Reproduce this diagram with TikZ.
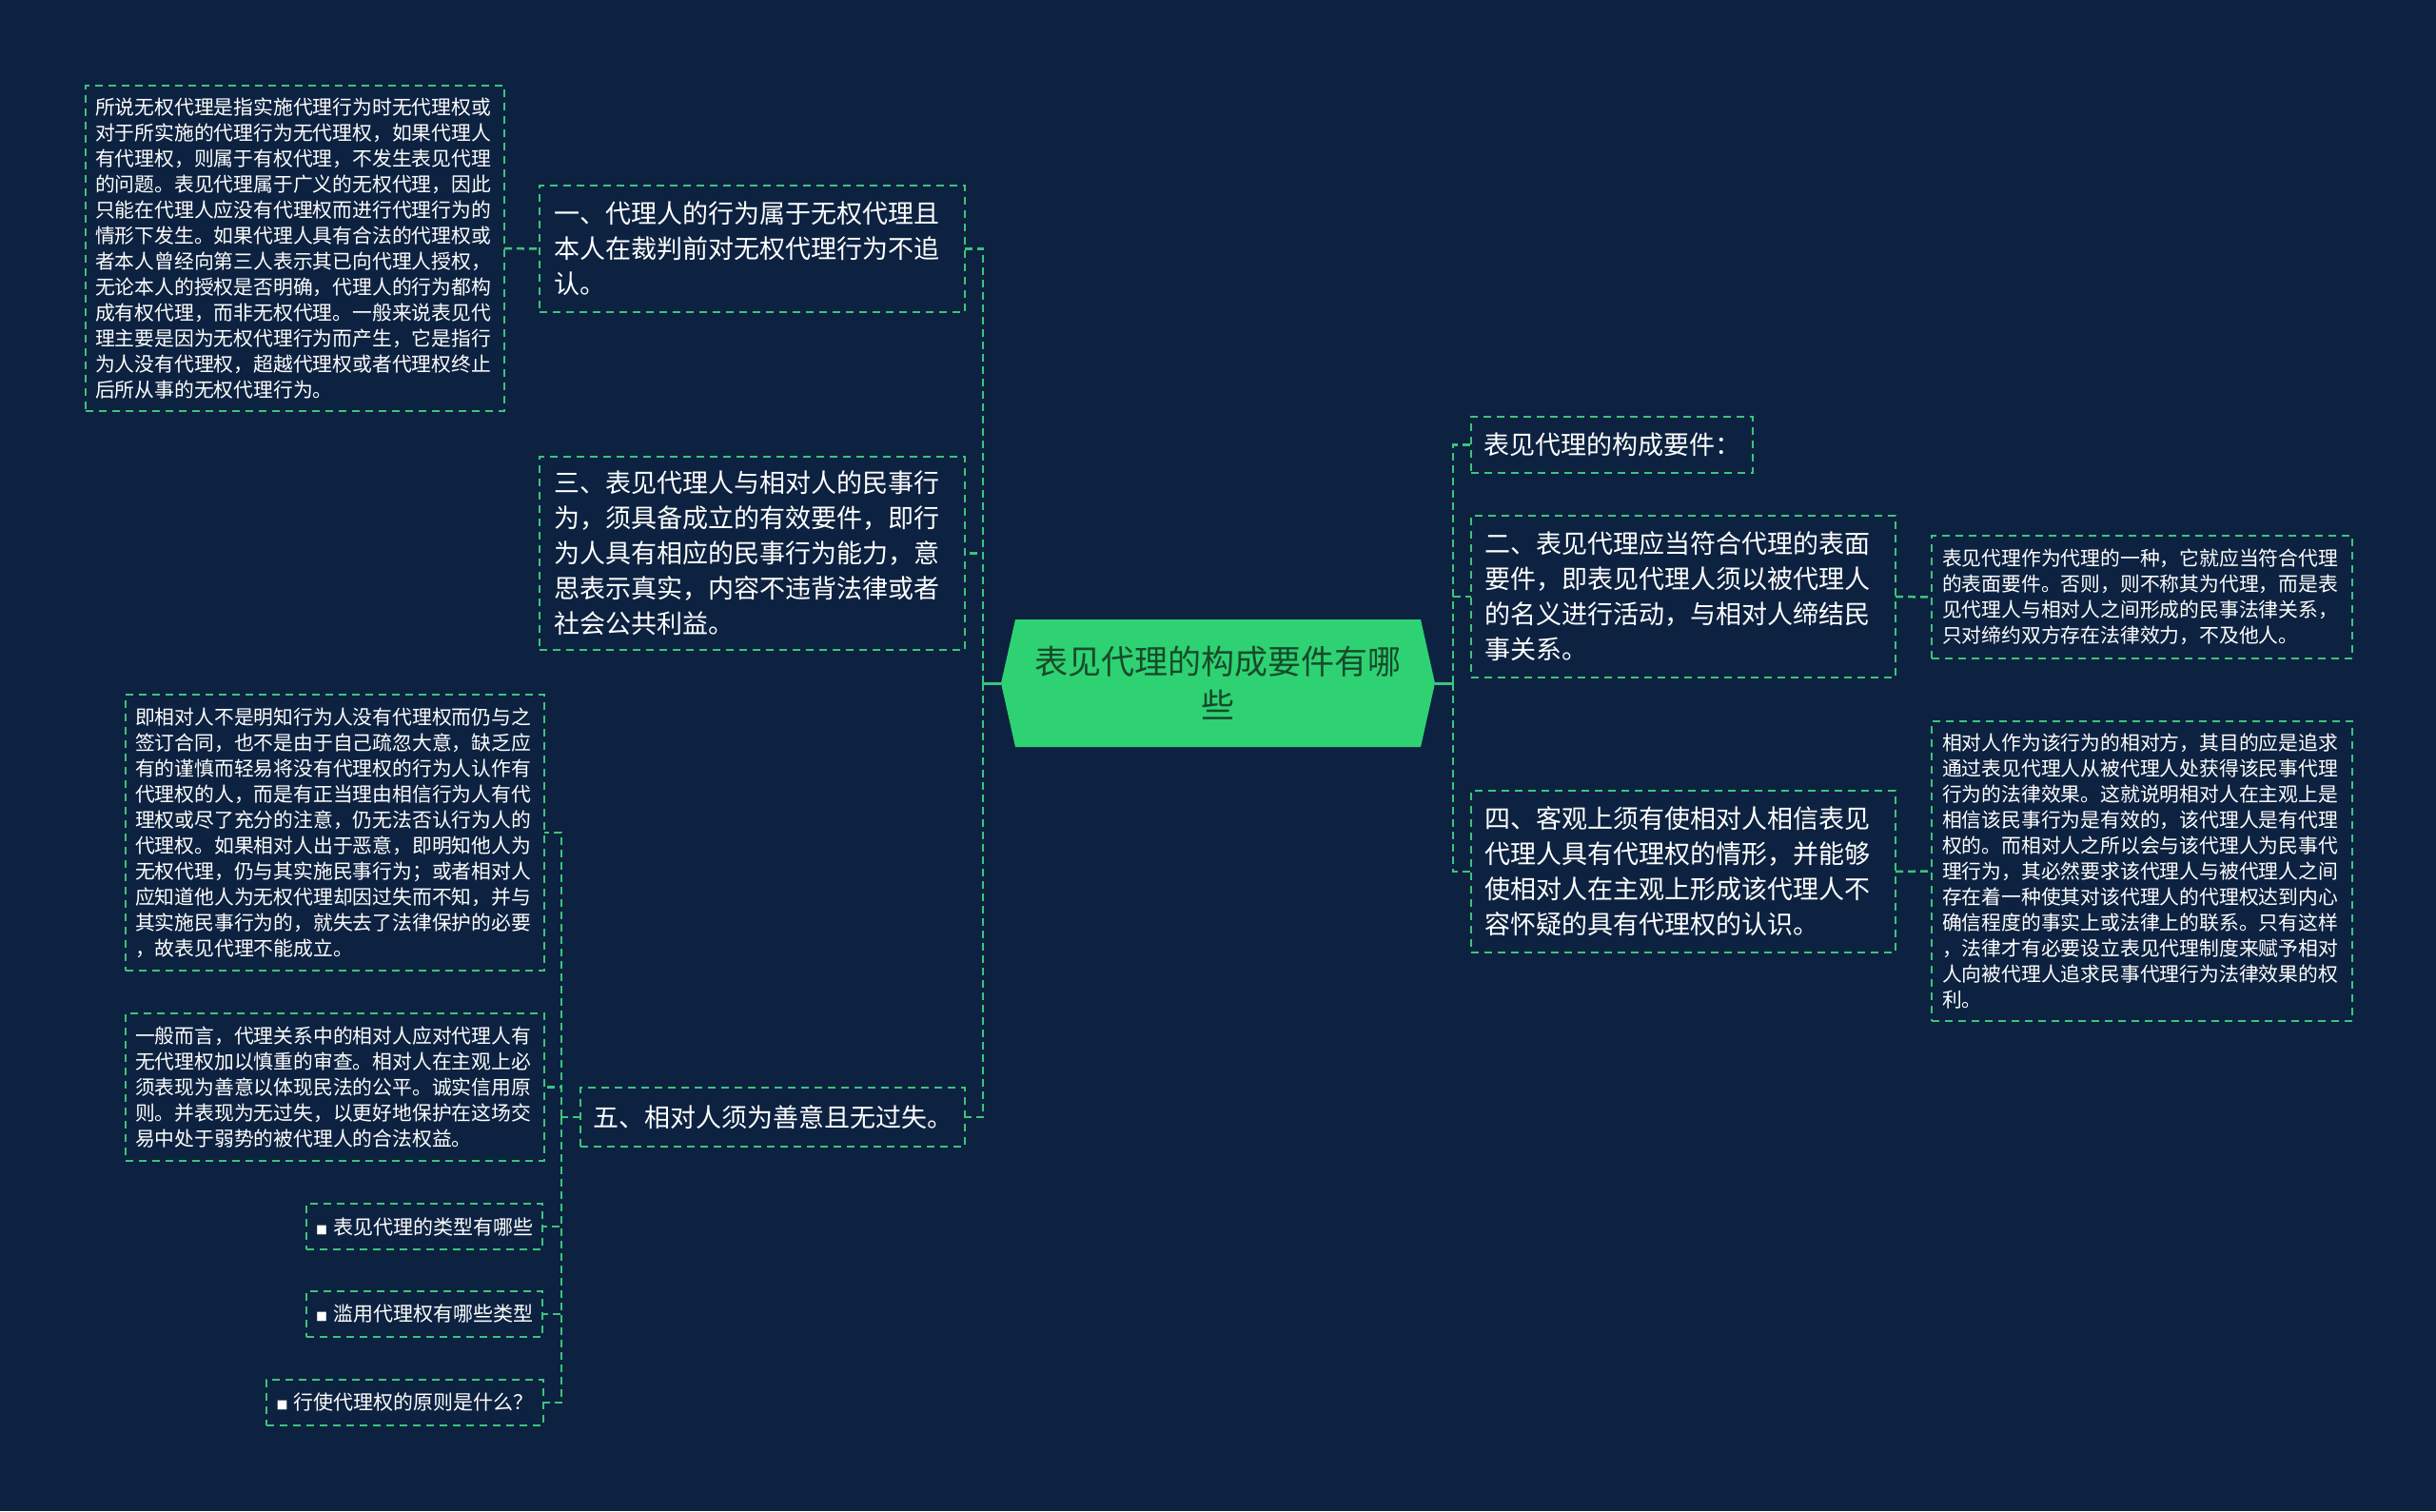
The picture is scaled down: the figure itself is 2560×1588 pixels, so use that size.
\documentclass[tikz,border=0pt]{standalone}
\usepackage{fontspec}
\setmainfont{Noto Sans CJK SC}
\usetikzlibrary{calc}
\definecolor{bgc}{HTML}{0D2240}
\definecolor{lg}{HTML}{3CC47C}
\definecolor{rootg}{HTML}{2ED273}
\definecolor{roott}{HTML}{174A2A}
\pgfdeclarelayer{back}
\pgfdeclarelayer{mid}
\pgfsetlayers{back,mid,main}
\tikzset{
  box/.style={draw=lg, line width=2pt, dash pattern=on 8pt off 6pt, text=white, align=left, inner ysep=0pt, outer sep=0pt},
  para/.style={box, font=\fontsize{20.8}{27}\selectfont, inner xsep=10pt, text width=420pt},
  big/.style={box, font=\fontsize{27}{37}\selectfont},
  tag/.style={box, font=\fontsize{21}{27}\selectfont, align=center, inner xsep=0pt, minimum height=48pt},
  link/.style={draw=lg, line width=2.5pt, dash pattern=on 8pt off 5pt},
  rootlink/.style={draw=lg, line width=3pt},
  rootnode/.style={font=\fontsize{35}{46}\selectfont, text=roott, align=center, minimum width=456pt, minimum height=134pt, inner sep=0pt, outer sep=0pt}
}
\newcommand{\mybullet}{{\fontsize{12}{12}\selectfont ■}\hspace{6pt}}
\begin{document}
\begin{tikzpicture}[x=1pt,y=-1pt]
\begin{pgfonlayer}{back}
\fill[bgc] (0,0) rectangle (2560,1588);
\end{pgfonlayer}
\useasboundingbox (0,0) rectangle (2560,1588);

% root
\node[rootnode] (root) at (1280,718) {表见代理的构成要件有哪\\些};
\begin{pgfonlayer}{mid}
\fill[rootg] ($(root.north west)+(15,0)$) -- ($(root.north east)+(-15,0)$) -- (root.east) -- ($(root.south east)+(-15,0)$) -- ($(root.south west)+(15,0)$) -- (root.west) -- cycle;
\end{pgfonlayer}

% left side
\node[para, minimum height=342pt] (A) at (310,261) {所说无权代理是指实施代理行为时无代理权或\\对于所实施的代理行为无代理权，如果代理人\\有代理权，则属于有权代理，不发生表见代理\\的问题。表见代理属于广义的无权代理，因此\\只能在代理人应没有代理权而进行代理行为的\\情形下发生。如果代理人具有合法的代理权或\\者本人曾经向第三人表示其已向代理人授权，\\无论本人的授权是否明确，代理人的行为都构\\成有权代理，而非无权代理。一般来说表见代\\理主要是因为无权代理行为而产生，它是指行\\为人没有代理权，超越代理权或者代理权终止\\后所从事的无权代理行为。};

\node[big, inner xsep=15pt, text width=417pt, minimum height=133pt] (B) at (790.5,261.5) {一、代理人的行为属于无权代理且\\本人在裁判前对无权代理行为不追\\认。};

\node[big, inner xsep=15pt, text width=417pt, minimum height=203pt] (C) at (790.5,581.5) {三、表见代理人与相对人的民事行\\为，须具备成立的有效要件，即行\\为人具有相应的民事行为能力，意\\思表示真实，内容不违背法律或者\\社会公共利益。};

\node[big, align=center, inner xsep=0pt, minimum width=404pt, minimum height=62pt] (D) at (812,1174) {五、相对人须为善意且无过失。};

\node[para, minimum height=290pt] (E) at (352,875) {即相对人不是明知行为人没有代理权而仍与之\\签订合同，也不是由于自己疏忽大意，缺乏应\\有的谨慎而轻易将没有代理权的行为人认作有\\代理权的人，而是有正当理由相信行为人有代\\理权或尽了充分的注意，仍无法否认行为人的\\代理权。如果相对人出于恶意，即明知他人为\\无权代理，仍与其实施民事行为；或者相对人\\应知道他人为无权代理却因过失而不知，并与\\其实施民事行为的，就失去了法律保护的必要\\，故表见代理不能成立。};

\node[para, minimum height=155pt] (F) at (352,1142.5) {一般而言，代理关系中的相对人应对代理人有\\无代理权加以慎重的审查。相对人在主观上必\\须表现为善意以体现民法的公平。诚实信用原\\则。并表现为无过失，以更好地保护在这场交\\易中处于弱势的被代理人的合法权益。};

\node[tag, minimum width=248pt] (G) at (446,1289) {\mybullet 表见代理的类型有哪些};
\node[tag, minimum width=248pt] (H) at (446,1381) {\mybullet 滥用代理权有哪些类型};
\node[tag, minimum width=291pt] (I) at (425.5,1474) {\mybullet 行使代理权的原则是什么？};

% right side
\node[big, inner xsep=13pt, text width=270pt, minimum height=59pt] (J) at (1694,467.5) {表见代理的构成要件：};

\node[big, inner xsep=14pt, text width=418pt, minimum height=170pt] (K) at (1769,627) {二、表见代理应当符合代理的表面\\要件，即表见代理人须以被代理人\\的名义进行活动，与相对人缔结民\\事关系。};

\node[para, inner xsep=11pt, minimum height=129pt] (L) at (2251,627.5) {表见代理作为代理的一种，它就应当符合代理\\的表面要件。否则，则不称其为代理，而是表\\见代理人与相对人之间形成的民事法律关系，\\只对缔约双方存在法律效力，不及他人。};

\node[big, inner xsep=14pt, text width=418pt, minimum height=170pt] (M) at (1769,916) {四、客观上须有使相对人相信表见\\代理人具有代理权的情形，并能够\\使相对人在主观上形成该代理人不\\容怀疑的具有代理权的认识。};

\node[para, inner xsep=11pt, minimum height=315pt] (N) at (2251,915.5) {相对人作为该行为的相对方，其目的应是追求\\通过表见代理人从被代理人处获得该民事代理\\行为的法律效果。这就说明相对人在主观上是\\相信该民事行为是有效的，该代理人是有代理\\权的。而相对人之所以会与该代理人为民事代\\理行为，其必然要求该代理人与被代理人之间\\存在着一种使其对该代理人的代理权达到内心\\确信程度的事实上或法律上的联系。只有这样\\，法律才有必要设立表见代理制度来赋予相对\\人向被代理人追求民事代理行为法律效果的权\\利。};

% connectors
\coordinate (tl) at (1033,718);
\coordinate (tr) at (1527,718);
\coordinate (ts) at (590,1174);

\draw[rootlink] (root.west) -- (tl);
\draw[rootlink] (root.east) -- (tr);

\draw[link] (tl) |- (B.east);
\draw[link] (tl) |- (C.east);
\draw[link] (tl) |- (D.east);
\draw[link] (A.east) -- (B.west);

\draw[link] (D.west) -- (ts);
\draw[link] (ts) |- (E.east);
\draw[link] (ts) |- (F.east);
\draw[link] (ts) |- (G.east);
\draw[link] (ts) |- (H.east);
\draw[link] (ts) |- (I.east);

\draw[link] (tr) |- (J.west);
\draw[link] (tr) |- (K.west);
\draw[link] (tr) |- (M.west);
\draw[link] (K.east) -- (L.west);
\draw[link] (M.east) -- (N.west);
\end{tikzpicture}
\end{document}
